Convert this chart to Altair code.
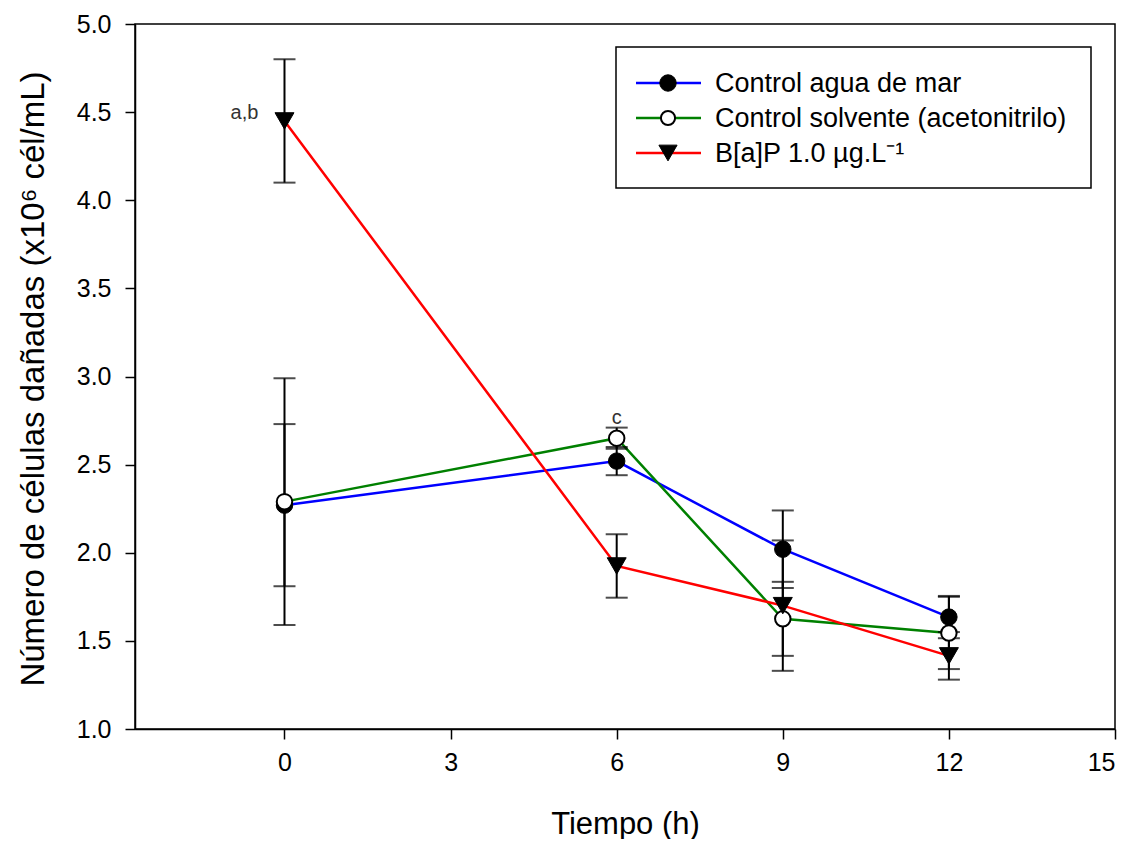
import altair as alt
import pandas as pd

# ---- data ----
times = [0, 6, 9, 12]
series_names = ["Control agua de mar", "Control solvente (acetonitrilo)", "B[a]P 1.0 µg.L⁻¹"]
series_colors = ["#0000FF", "#008000", "#FF0000"]

agua_mean = [2.27, 2.52, 2.02, 1.635]
agua_err = [0.46, 0.08, 0.22, 0.12]
solv_mean = [2.29, 2.65, 1.625, 1.545]
solv_err = [0.70, 0.06, 0.21, 0.205]
bap_mean = [4.45, 1.925, 1.70, 1.415]
bap_err = [0.35, 0.18, 0.37, 0.135]

ann_x = [0, 6]
ann_y = [4.45, 2.65]
ann_text = ["a,b", "c"]

x_ticks = [0, 3, 6, 9, 12, 15]
y_ticks = [1.0, 1.5, 2.0, 2.5, 3.0, 3.5, 4.0, 4.5, 5.0]

# ---- build table ----
rows = []
for name, means, errs in zip(series_names, [agua_mean, solv_mean, bap_mean], [agua_err, solv_err, bap_err]):
    for t, m, e in zip(times, means, errs):
        rows.append({"serie": name, "t": t, "m": m, "lo": m - e, "hi": m + e})
df = pd.DataFrame(rows)
ann = pd.DataFrame({"x": ann_x, "y": ann_y, "txt": ann_text})

FONT = "Liberation Sans"
W, H = 980, 705

xs = alt.Scale(domain=[-2.7, 15], nice=False, zero=False)
ys = alt.Scale(domain=[1, 5], nice=False, zero=False)

X = alt.X("t:Q", scale=xs, axis=alt.Axis(
    title="Tiempo (h)", values=x_ticks, format="d", grid=False, domain=True,
    domainColor="black", domainWidth=1.5,
    tickSize=10, tickWidth=1.5, tickColor="black", labelFontSize=25, labelPadding=11,
    labelFont=FONT, labelColor="black", titleFont=FONT, titleFontSize=31,
    titleFontWeight="normal", titleColor="black", titleX=W / 2, titleY=95,
    titleBaseline="middle", titleAlign="center"))
Y = alt.Y("m:Q", scale=ys, axis=alt.Axis(
    title="Número de células dañadas (x10⁶ cél/mL)", values=y_ticks, format=".1f",
    grid=False, domain=True, domainColor="black", domainWidth=1.5,
    tickSize=10, tickWidth=1.5, tickColor="black",
    labelFontSize=25, labelPadding=14, labelFont=FONT, labelColor="black",
    titleFont=FONT, titleFontSize=33, titleFontWeight="normal", titleColor="black",
    titleAngle=270, titleX=-102, titleY=H / 2 + 2, titleBaseline="middle", titleAlign="center"))

color = alt.Color("serie:N", scale=alt.Scale(domain=series_names, range=series_colors), legend=None)

base = alt.Chart(df)
lines = base.mark_line(strokeWidth=2.5).encode(x=X, y=Y, color=color, detail="serie:N")
err_rules = base.mark_rule(color="black", strokeWidth=2).encode(
    x="t:Q", y="lo:Q", y2="hi:Q")
cap_hi = base.mark_tick(color="black", orient="horizontal", size=22, thickness=2).encode(
    x="t:Q", y="hi:Q")
cap_lo = base.mark_tick(color="black", orient="horizontal", size=22, thickness=2).encode(
    x="t:Q", y="lo:Q")

pt_agua = base.transform_filter(alt.datum.serie == series_names[0]).mark_point(
    shape="circle", filled=True, fill="black", stroke="black", strokeWidth=1, size=270, opacity=1
).encode(x="t:Q", y="m:Q")
pt_solv = base.transform_filter(alt.datum.serie == series_names[1]).mark_point(
    shape="circle", filled=True, fill="white", stroke="black", strokeWidth=2, size=240, opacity=1
).encode(x="t:Q", y="m:Q")
pt_bap = base.transform_filter(alt.datum.serie == series_names[2]).mark_point(
    shape="triangle-down", filled=True, fill="black", stroke="black", strokeWidth=1, size=360, opacity=1
).encode(x="t:Q", y="m:Q")

annot_ab = alt.Chart(ann).transform_filter(alt.datum.txt == ann_text[0]).mark_text(
    font=FONT, fontSize=20, color="#333333", dx=-40, dy=-8).encode(
    x="x:Q", y="y:Q", text="txt:N")
annot_c = alt.Chart(ann).transform_filter(alt.datum.txt == ann_text[1]).mark_text(
    font=FONT, fontSize=20, color="#333333", dx=0, dy=-20).encode(
    x="x:Q", y="y:Q", text="txt:N")

# ---- legend (drawn manually) ----
one = pd.DataFrame({"k": [0]})
LX0, LY0, LX1, LY1 = 481, 23, 956, 164
leg = [alt.Chart(one).mark_rect(fill="white", stroke="black", strokeWidth=1.5).encode(
    x=alt.value(LX0), x2=alt.value(LX1), y=alt.value(LY0), y2=alt.value(LY1))]
row_y = [59, 94, 129]
marker_specs = [("circle", "black", 270, 1), ("circle", "white", 200, 2), ("triangle-down", "black", 330, 1)]
for i, name in enumerate(series_names):
    yy = row_y[i]
    leg.append(alt.Chart(one).mark_rule(strokeWidth=2.5, color=series_colors[i]).encode(
        x=alt.value(501), x2=alt.value(566), y=alt.value(yy)))
    shp, fl, sz, sw = marker_specs[i]
    leg.append(alt.Chart(one).mark_point(shape=shp, filled=True, fill=fl, stroke="black",
                                         strokeWidth=sw, size=sz, opacity=1).encode(
        x=alt.value(533), y=alt.value(yy)))
    leg.append(alt.Chart(one).mark_text(font=FONT, fontSize=27, align="left", baseline="middle",
                                        color="black").encode(
        x=alt.value(580), y=alt.value(yy + 1), text=alt.value(name)))

chart = alt.layer(lines, err_rules, cap_hi, cap_lo, pt_agua, pt_solv, pt_bap, annot_ab, annot_c, *leg).properties(
    width=W, height=H,
    background="white",
    padding={"left": 127, "top": 16, "right": 10, "bottom": 110},
    autosize=alt.AutoSizeParams(type="none"),
).configure_view(stroke="black", strokeWidth=1.5)

chart.save("out.html", embed_options={"renderer": "svg", "actions": False})
